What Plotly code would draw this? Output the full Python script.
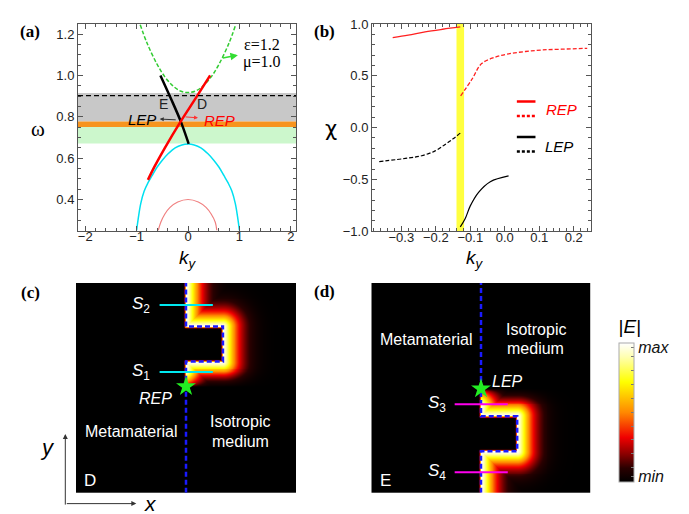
import numpy as np
import plotly.graph_objects as go

W, H = 689, 514

# ---------------- Panel (a): dispersion ----------------
green_k = [-0.93, -0.8, -0.6, -0.45, -0.3, -0.15, 0.0, 0.15, 0.3, 0.45, 0.6, 0.8, 0.92]
green_w = [1.245, 1.158, 1.053, 0.993, 0.951, 0.925, 0.917, 0.925, 0.951, 0.993, 1.053, 1.158, 1.24]
cyan_k = [-1.0, -0.97, -0.92, -0.854, -0.78, -0.7, -0.6, -0.5, -0.388, -0.25, -0.12, 0.0,
          0.12, 0.25, 0.388, 0.5, 0.6, 0.7, 0.78, 0.854, 0.92, 0.97, 1.0]
cyan_w = [0.25, 0.305, 0.38, 0.44, 0.48, 0.515, 0.557, 0.59, 0.621, 0.65, 0.664, 0.668,
          0.664, 0.65, 0.621, 0.59, 0.557, 0.515, 0.48, 0.44, 0.38, 0.305, 0.25]
pink_k = [-0.58, -0.53, -0.45, -0.35, -0.2, 0.0, 0.2, 0.35, 0.45, 0.53, 0.56]
pink_w = [0.25, 0.29, 0.33, 0.362, 0.388, 0.40, 0.388, 0.362, 0.33, 0.29, 0.25]
red_k = [-0.78, -0.65, -0.45, -0.142, 0.15, 0.43]
red_w = [0.495, 0.56, 0.65, 0.778, 0.89, 1.0]
black_k = [-0.537, -0.34, -0.142, 0.013]
black_w = [1.0, 0.892, 0.778, 0.669]
band_gray = [0.777, 0.915]
band_orange = [0.751, 0.777]
band_green = [0.671, 0.751]
dash_level = 0.9025

# ---------------- Panel (b): chirality ----------------
rep_solid_k = [-0.325, -0.28, -0.231, -0.18, -0.129]
rep_solid_c = [0.869, 0.893, 0.925, 0.95, 0.972]
rep_dash_k = [-0.128, -0.096, -0.067, -0.028, 0.011, 0.06, 0.108, 0.17, 0.239]
rep_dash_c = [0.306, 0.4625, 0.619, 0.68, 0.7125, 0.735, 0.75, 0.758, 0.766]
lep_dash_k = [-0.364, -0.28, -0.241, -0.202, -0.173, -0.149, -0.129]
lep_dash_c = [-0.328, -0.294, -0.272, -0.225, -0.1625, -0.106, -0.053]
lep_solid_k = [-0.129, -0.115, -0.1, -0.076, -0.042, 0.011]
lep_solid_c = [-0.959, -0.881, -0.756, -0.625, -0.522, -0.466]
yellow_band = [-0.14, -0.118]

# ---------------- Panels (c), (d): field maps (normalised coords) ----------------
IFACE_X = 0.5
C_STEP_X = 0.668
C_STEP_Y = [0.626, 0.792]
C_STAR = [0.5, 0.506]
C_S_Y = [0.575, 0.895]     # S1, S2
D_STEP_X = 0.665
D_STEP_Y = [0.198, 0.364]
D_STAR = [0.5, 0.495]
D_S_Y = [0.421, 0.097]     # S3, S4
S_X = [0.38, 0.622]

NX, NY = 220, 216
gx = (np.arange(NX) + 0.5) / NX
gy = (np.arange(NY) + 0.5) / NY
GX, GY = np.meshgrid(gx, gy)


def seg_dist(p, q):
    dx, dy = q[0] - p[0], q[1] - p[1]
    L2 = dx * dx + dy * dy
    t = np.clip(((GX - p[0]) * dx + (GY - p[1]) * dy) / L2, 0, 1)
    return np.hypot(GX - (p[0] + t * dx), GY - (p[1] + t * dy))


def field(path, step_x, step_y, star_y, upward):
    d = np.min([seg_dist(path[i], path[i + 1]) for i in range(len(path) - 1)], axis=0)
    inside_rect = (GX >= IFACE_X) & (GX <= step_x) & (GY >= step_y[0]) & (GY <= step_y[1])
    iso = (GX > IFACE_X) & ~inside_rect
    z = np.where(iso, np.exp(-(d / 0.068) ** 1.4), 0.6 * np.exp(-(d / 0.006) ** 2))
    s = (GY - star_y) if upward else (star_y - GY)
    taper = np.clip(s / 0.07, 0, 1) ** 0.6
    return z * taper


c_iface = [(IFACE_X, 0.0), (IFACE_X, C_STEP_Y[0]), (C_STEP_X, C_STEP_Y[0]),
           (C_STEP_X, C_STEP_Y[1]), (IFACE_X, C_STEP_Y[1]), (IFACE_X, 1.0)]
d_iface = [(IFACE_X, 0.0), (IFACE_X, D_STEP_Y[0]), (D_STEP_X, D_STEP_Y[0]),
           (D_STEP_X, D_STEP_Y[1]), (IFACE_X, D_STEP_Y[1]), (IFACE_X, 1.0)]
c_glow = [(IFACE_X, C_STAR[1])] + c_iface[1:]
d_glow = [(IFACE_X, D_STAR[1])] + list(reversed(d_iface[:-1]))
zc = field(c_glow, C_STEP_X, C_STEP_Y, C_STAR[1], True)
zd = field(d_glow, D_STEP_X, D_STEP_Y, D_STAR[1], False)

hot = [[0, '#000000'], [0.1, '#2a0000'], [0.2, '#8a0000'], [0.32, '#f00000'],
       [0.5, '#ff8800'], [0.72, '#ffff00'], [0.9, '#ffffb0'], [1, '#ffffff']]

fig = go.Figure()

# ---- (a) traces
fig.add_trace(go.Scatter(x=pink_k, y=pink_w, mode='lines', line=dict(color='#f08080', width=1.2, shape='spline'), xaxis='x', yaxis='y'))
fig.add_trace(go.Scatter(x=cyan_k, y=cyan_w, mode='lines', line=dict(color='#00e0f0', width=1.5, shape='spline'), xaxis='x', yaxis='y'))
fig.add_trace(go.Scatter(x=green_k, y=green_w, mode='lines', line=dict(color='#33cc33', width=1.5, dash='4px,2px', shape='spline'), xaxis='x', yaxis='y'))
fig.add_trace(go.Scatter(x=black_k, y=black_w, mode='lines', line=dict(color='#000000', width=2.5, shape='spline'), xaxis='x', yaxis='y'))
fig.add_trace(go.Scatter(x=red_k, y=red_w, mode='lines', line=dict(color='#ff0000', width=2.5, shape='spline'), xaxis='x', yaxis='y'))

# ---- (b) traces
fig.add_trace(go.Scatter(x=rep_solid_k, y=rep_solid_c, mode='lines', line=dict(color='#ff2020', width=1.3, shape='spline'), xaxis='x2', yaxis='y2'))
fig.add_trace(go.Scatter(x=rep_dash_k, y=rep_dash_c, mode='lines', line=dict(color='#ff2020', width=1.3, dash='4px,2px', shape='spline'), xaxis='x2', yaxis='y2'))
fig.add_trace(go.Scatter(x=lep_dash_k, y=lep_dash_c, mode='lines', line=dict(color='#000000', width=1.2, dash='4px,2px', shape='spline'), xaxis='x2', yaxis='y2'))
fig.add_trace(go.Scatter(x=lep_solid_k, y=lep_solid_c, mode='lines', line=dict(color='#000000', width=1.2, shape='spline'), xaxis='x2', yaxis='y2'))

# ---- (c), (d) heatmaps
fig.add_trace(go.Heatmap(x=gx, y=gy, z=zc, zmin=0, zmax=1, colorscale=hot, xaxis='x3', yaxis='y3', hoverinfo='skip',
                         colorbar=dict(x=611 / W, xanchor='left', xpad=0, ypad=0, y=1 - 395.7 / H, yanchor='middle',
                                       len=170 / H, lenmode='fraction', thickness=15, thicknessmode='pixels',
                                       outlinecolor='#aaaaaa', outlinewidth=1, ticks='inside', ticklen=3, tickcolor='#777',
                                       tickvals=[0.04, 0.1, 0.2, 0.3, 0.4, 0.5, 0.6, 0.7, 0.8, 0.9, 0.965],
                                       ticktext=['<i>min</i>', '', '', '', '', '', '', '', '', '', '<i>max</i>'],
                                       tickfont=dict(family='Arial, Liberation Sans', size=16, color='#111'),
                                       title=dict(text='|<i>E</i>|', side='top', font=dict(family='Arial, Liberation Sans', size=19, color='#000')))))
fig.add_trace(go.Heatmap(x=gx, y=gy, z=zd, zmin=0, zmax=1, colorscale=hot, xaxis='x4', yaxis='y4', hoverinfo='skip', showscale=False))

for iface, ax, ay in [(c_iface, 'x3', 'y3'), (d_iface, 'x4', 'y4')]:
    fig.add_trace(go.Scatter(x=[p[0] for p in iface], y=[p[1] for p in iface], mode='lines',
                             line=dict(color='#1a1aff', width=2.5, dash='5px,3px'), xaxis=ax, yaxis=ay))
for sy in C_S_Y:
    fig.add_trace(go.Scatter(x=S_X, y=[sy, sy], mode='lines', line=dict(color='#00e8f0', width=2), xaxis='x3', yaxis='y3'))
for sy in D_S_Y:
    fig.add_trace(go.Scatter(x=S_X, y=[sy, sy], mode='lines', line=dict(color='#ff00ee', width=2), xaxis='x4', yaxis='y4'))
fig.add_trace(go.Scatter(x=[C_STAR[0]], y=[C_STAR[1]], mode='markers', marker=dict(symbol='star', size=15, color='#22ee22'), xaxis='x3', yaxis='y3'))
fig.add_trace(go.Scatter(x=[D_STAR[0]], y=[D_STAR[1]], mode='markers', marker=dict(symbol='star', size=15, color='#22ee22'), xaxis='x4', yaxis='y4'))

# ---------------- layout ----------------
AX = dict(showline=True, linecolor='#555555', linewidth=1, mirror='allticks', ticks='inside', ticklen=5,
          tickcolor='#555555', showgrid=False, zeroline=False,
          tickfont=dict(family='Arial, Liberation Sans', size=13, color='#222'))
IMG = dict(visible=False, range=[0, 1], showgrid=False, zeroline=False, fixedrange=True)

fig.update_layout(
    width=W, height=H, autosize=False, margin=dict(l=0, r=0, t=0, b=0),
    paper_bgcolor='white', plot_bgcolor='white', showlegend=False,
    xaxis=dict(AX, domain=[70 / W, 288 / W], range=[-2.14, 2.1], dtick=1, tick0=0, ticklabelstandoff=-6,
               minor=dict(ticks='inside', dtick=0.2, ticklen=3, tickcolor='#555555'), anchor='y'),
    yaxis=dict(AX, domain=[1 - 222 / H, 1 - 9 / H], range=[0.25, 1.25], dtick=0.2, tick0=0.2, tickformat='.1f',
               minor=dict(ticks='inside', dtick=0.05, ticklen=3, tickcolor='#555555'), anchor='x'),
    xaxis2=dict(AX, domain=[364 / W, 583 / W], range=[-0.385, 0.25], dtick=0.1, tick0=0, tickformat='.1f',
                ticklabelstandoff=-6,
                minor=dict(ticks='inside', dtick=0.02, ticklen=3, tickcolor='#555555'), anchor='y2'),
    yaxis2=dict(AX, domain=[1 - 222.7 / H, 1 - 9.3 / H], range=[-1.0005, 1.0005], dtick=0.5, tick0=0, tickformat='.1f',
                minor=dict(ticks='inside', dtick=0.1, ticklen=3, tickcolor='#555555'), anchor='x2'),
    xaxis3=dict(IMG, domain=[68 / W, 288 / W], anchor='y3'),
    yaxis3=dict(IMG, domain=[1 - 492 / H, 1 - 276 / H], anchor='x3'),
    xaxis4=dict(IMG, domain=[363.3 / W, 582.7 / W], anchor='y4'),
    yaxis4=dict(IMG, domain=[1 - 492 / H, 1 - 276 / H], anchor='x4'),
)

shapes = [
    dict(type='rect', xref='x domain', yref='y', x0=0, x1=1, y0=band_gray[0], y1=band_gray[1], fillcolor='#c8c8c8', line=dict(width=0), layer='below'),
    dict(type='rect', xref='x domain', yref='y', x0=0, x1=1, y0=band_orange[0], y1=band_orange[1], fillcolor='#f7941e', line=dict(width=0), layer='below'),
    dict(type='rect', xref='x domain', yref='y', x0=0, x1=1, y0=band_green[0], y1=band_green[1], fillcolor='#ccf7cc', line=dict(width=0), layer='below'),
    dict(type='line', xref='x domain', yref='y', x0=0, x1=1, y0=dash_level, y1=dash_level, line=dict(color='#000', width=1.2, dash='5px,3px')),
    dict(type='rect', xref='x2', yref='y2 domain', x0=yellow_band[0], x1=yellow_band[1], y0=0, y1=1, fillcolor='#ffff40', line=dict(width=0), layer='below'),
    # legend samples in (b)
    dict(type='line', xref='x2', yref='y2', x0=0.035, x1=0.089, y0=0.253, y1=0.253, line=dict(color='#ff0000', width=2.5)),
    dict(type='line', xref='x2', yref='y2', x0=0.035, x1=0.089, y0=0.1125, y1=0.1125, line=dict(color='#ff0000', width=2.5, dash='3px,2px')),
    dict(type='line', xref='x2', yref='y2', x0=0.035, x1=0.089, y0=-0.09, y1=-0.09, line=dict(color='#000000', width=2.5)),
    dict(type='line', xref='x2', yref='y2', x0=0.035, x1=0.089, y0=-0.231, y1=-0.231, line=dict(color='#000000', width=2.5, dash='3px,2px')),
]
fig.update_layout(shapes=shapes)

SANS = 'Arial, Liberation Sans'
SERIF = 'Times New Roman, Liberation Serif'
ann = []


def txt(text, x, y, xref, yref, size, color='#000', family=SANS, **kw):
    ann.append(dict(text=text, x=x, y=y, xref=xref, yref=yref, showarrow=False,
                    font=dict(family=family, size=size, color=color), xanchor='center', yanchor='middle', **kw))


def px(xp, yp):
    return xp / W, 1 - yp / H


# panel labels and axis titles
for lab, (xp, yp) in [('(a)', (22, 17)), ('(b)', (316, 17)), ('(c)', (22, 286)), ('(d)', (316, 285))]:
    txt('<b>%s</b>' % lab, *px(xp, yp), 'paper', 'paper', 17, family=SERIF)
txt('ω', *px(30, 117), 'paper', 'paper', 21, family=SERIF)
txt('χ', *px(323, 117), 'paper', 'paper', 21, family='DejaVu Sans')
txt('<i>k<sub>y</sub></i>', *px(180, 251), 'paper', 'paper', 19)
txt('<i>k<sub>y</sub></i>', *px(467, 251), 'paper', 'paper', 19)
txt('<i>y</i>', *px(39, 446), 'paper', 'paper', 22)
txt('<i>x</i>', *px(142, 503), 'paper', 'paper', 21)
ann.append(dict(x=57.3 / W, y=1 - 431.7 / H, xref='paper', yref='paper', ax=0, ay=72, text='', showarrow=True,
                arrowhead=2, arrowsize=1, arrowwidth=1, arrowcolor='#333'))
ann.append(dict(x=128.3 / W, y=1 - 503.3 / H, xref='paper', yref='paper', ax=-71, ay=0, text='', showarrow=True,
                arrowhead=2, arrowsize=1, arrowwidth=1, arrowcolor='#333'))

# (a) annotations
txt('ε=1.2', 1.44, 1.149, 'x', 'y', 16, family=SERIF)
txt('μ=1.0', 1.44, 1.064, 'x', 'y', 16, family=SERIF)
ann.append(dict(x=0.97, y=1.098, ax=0.647, ay=1.083, xref='x', yref='y', axref='x', ayref='y', text='',
                showarrow=True, arrowhead=2, arrowsize=1, arrowwidth=1.5, arrowcolor='#33dd33'))
txt('E', -0.47, 0.86, 'x', 'y', 14, color='#222')
txt('D', 0.28, 0.86, 'x', 'y', 14, color='#222')
txt('<i>LEP</i>', -0.9, 0.785, 'x', 'y', 15, color='#000')
txt('<i>REP</i>', 0.62, 0.783, 'x', 'y', 15, color='#ff0000')
ann.append(dict(x=-0.55, y=0.789, ax=-0.21, ay=0.785, xref='x', yref='y', axref='x', ayref='y', text='',
                showarrow=True, arrowhead=2, arrowsize=0.8, arrowwidth=1, arrowcolor='#333'))
ann.append(dict(x=0.194, y=0.795, ax=-0.078, ay=0.8, xref='x', yref='y', axref='x', ayref='y', text='',
                showarrow=True, arrowhead=2, arrowsize=0.8, arrowwidth=1, arrowcolor='#ff3030'))

# (b) legend labels
txt('<i>REP</i>', 0.165, 0.175, 'x2', 'y2', 15, color='#ff0000')
txt('<i>LEP</i>', 0.156, -0.178, 'x2', 'y2', 15, color='#000')

# (c) labels
txt('<i>S</i><sub>2</sub>', 0.295, C_S_Y[1], 'x3', 'y3', 17, color='white')
txt('<i>S</i><sub>1</sub>', 0.295, C_S_Y[0], 'x3', 'y3', 17, color='white')
txt('<i>REP</i>', 0.36, 0.449, 'x3', 'y3', 16, color='white')
txt('Metamaterial', 0.251, 0.29, 'x3', 'y3', 16, color='white')
txt('Isotropic', 0.747, 0.337, 'x3', 'y3', 16, color='white')
txt('medium', 0.747, 0.245, 'x3', 'y3', 16, color='white')
txt('D', 0.062, 0.06, 'x3', 'y3', 17, color='white')

# (d) labels
txt('<i>S</i><sub>3</sub>', 0.30, D_S_Y[0], 'x4', 'y4', 17, color='white')
txt('<i>S</i><sub>4</sub>', 0.30, D_S_Y[1], 'x4', 'y4', 17, color='white')
txt('<i>LEP</i>', 0.623, 0.531, 'x4', 'y4', 16, color='white')
txt('Metamaterial', 0.251, 0.73, 'x4', 'y4', 16, color='white')
txt('Isotropic', 0.749, 0.776, 'x4', 'y4', 16, color='white')
txt('medium', 0.749, 0.688, 'x4', 'y4', 16, color='white')
txt('E', 0.064, 0.059, 'x4', 'y4', 17, color='white')

fig.update_layout(annotations=ann)
fig.write_html('out.html')
